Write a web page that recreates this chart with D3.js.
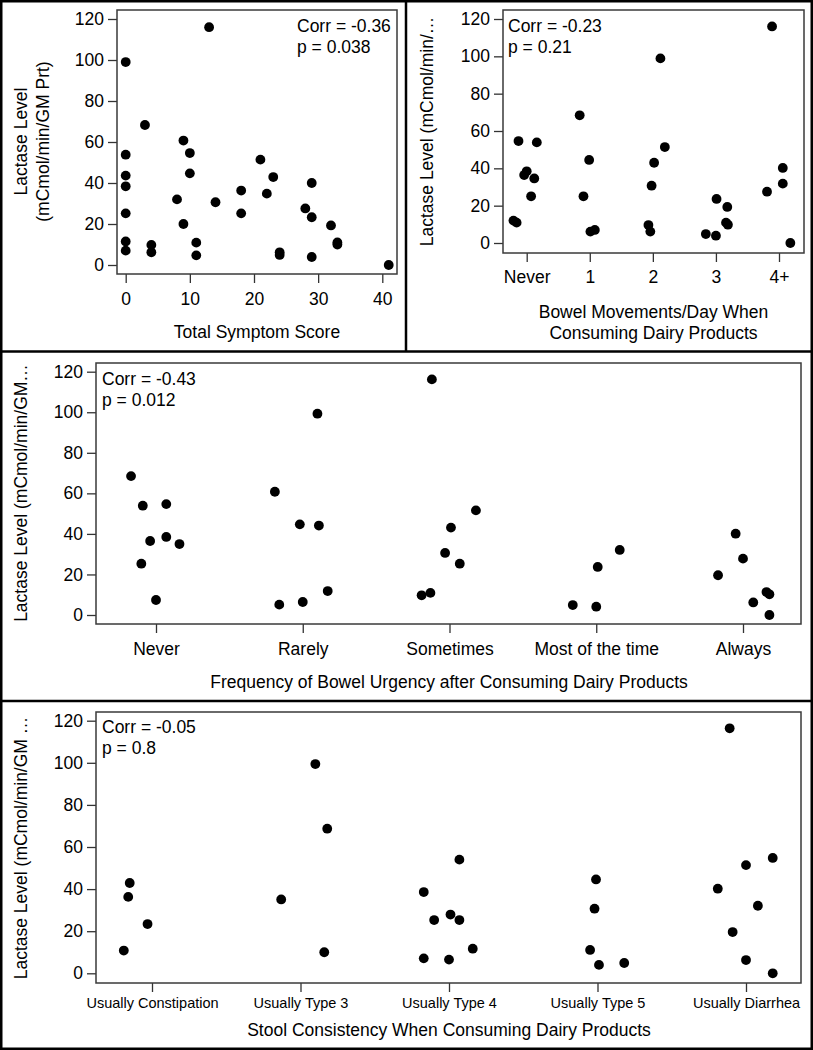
<!DOCTYPE html>
<html><head><meta charset="utf-8">
<script src="https://cdn.jsdelivr.net/npm/d3@7"></script>
<style>
html,body{margin:0;padding:0;background:#fff;}
svg text{font-family:"Liberation Sans",Arial,sans-serif;fill:#000;}
</style></head>
<body><svg id="c" width="813" height="1050"></svg>
<script>
// ---------- DATA ----------
const yTicks = [0, 20, 40, 60, 80, 100, 120];
const scoreTicks = [0, 10, 20, 30, 40];

// Panel 1: Total Symptom Score vs Lactase
const p1Score   = [13, 0, 3, 9, 0, 10, 0, 10, 0, 21, 23, 29, 8, 14, 18, 18, 22, 0, 9, 28, 29, 32, 33, 33, 0, 0, 4, 4, 11, 11, 24, 24, 29, 41];
const p1Lactase = [116, 99, 68.3, 60.7, 53.8, 54.6, 43.6, 44.7, 38.4, 51.4, 42.9, 40, 32, 30.6, 36.3, 25.2, 34.8, 25.2, 20, 27.6, 23.3, 19.3, 11, 10, 11.5, 7, 9.8, 6.2, 10.9, 4.7, 6.2, 4.9, 3.9, 0];

// Panel 2: Bowel movements/day
const bmCategories = ["Never", "1", "2", "3", "4+"];
const p2Cat     = [0, 0, 0, 0, 0, 0, 0, 0, 1, 1, 1, 1, 1, 2, 2, 2, 2, 2, 2, 3, 3, 3, 3, 3, 3, 4, 4, 4, 4, 4];
const p2Jitter  = [-0.13, 0.16, -0.04, 0.0, 0.12, 0.07, -0.21, -0.16, -0.16, -0.01, -0.1, 0.01, 0.08, 0.12, 0.19, 0.02, -0.02, -0.07, -0.04, 0.01, 0.18, 0.16, 0.19, -0.16, 0.0, -0.11, 0.06, 0.06, -0.19, 0.18];
const p2Lactase = [54.6, 53.9, 36.4, 38.4, 34.6, 25, 12, 10.9, 68.4, 44.5, 25, 6.1, 7, 98.9, 51.4, 43, 30.7, 9.6, 6.1, 23.6, 19.3, 10.9, 9.8, 4.8, 3.9, 116, 40.2, 31.8, 27.5, 0];

// Panel 3: Frequency of bowel urgency
const urgencyCategories = ["Never", "Rarely", "Sometimes", "Most of the time", "Always"];
const p3Cat     = [0, 0, 0, 0, 0, 0, 0, 0, 1, 1, 1, 1, 1, 1, 1, 2, 2, 2, 2, 2, 2, 2, 3, 3, 3, 3, 4, 4, 4, 4, 4, 4, 4];
const p3Jitter  = [-0.17, -0.09, 0.07, -0.04, 0.07, 0.16, -0.10, 0.0, -0.19, -0.02, 0.11, 0.10, 0.17, -0.16, 0.0, -0.12, 0.18, 0.01, -0.03, 0.07, -0.19, -0.13, -0.16, 0.0, 0.01, 0.16, -0.17, -0.05, 0.0, 0.07, 0.16, 0.18, 0.18];
const p3Lactase = [68.5, 53.9, 54.7, 36.5, 38.5, 35, 25.3, 7.4, 60.8, 44.7, 44.1, 99.3, 11.8, 5.1, 6.4, 116.2, 51.6, 43.1, 30.6, 25.3, 9.7, 10.9, 4.9, 4.1, 23.7, 32.1, 19.6, 40.1, 27.8, 6.2, 11.3, 10.2, 0];

// Panel 4: Stool consistency
const stoolCategories = ["Usually Constipation", "Usually Type 3", "Usually Type 4", "Usually Type 5", "Usually Diarrhea"];
const p4Cat     = [0, 0, 0, 0, 1, 1, 1, 1, 2, 2, 2, 2, 2, 2, 2, 2, 3, 3, 3, 3, 3, 4, 4, 4, 4, 4, 4, 4, 4];
const p4Jitter  = [-0.15, -0.16, -0.03, -0.19, 0.10, 0.18, -0.13, 0.16, 0.07, -0.17, 0.01, -0.10, 0.07, 0.16, -0.17, 0.0, -0.01, -0.02, -0.05, 0.01, 0.18, -0.11, 0.18, 0.0, -0.19, 0.08, -0.09, 0.0, 0.18];
const p4Lactase = [42.9, 36.3, 23.4, 10.8, 99.4, 68.7, 35.1, 10, 54, 38.6, 27.9, 25.3, 25.3, 11.7, 7.1, 6.5, 44.6, 30.7, 11.1, 4, 4.9, 116.4, 54.8, 51.4, 40.2, 32.1, 19.6, 6.3, 0];

const corrLabels = ["Corr = -0.36", "Corr = -0.23", "Corr = -0.43", "Corr = -0.05"];
const pLabels    = ["p = 0.038", "p = 0.21", "p = 0.012", "p = 0.8"];

// ---------- DRAW ----------
const svg = d3.select("#c");
const FONT = 17.5;
const R = 4.9;

function panel(o) {
  const g = svg.append("g");
  const y = d3.scaleLinear().domain([0, 120]).range([o.y0, o.y120]);
  const x = d3.scaleLinear().domain(o.xDomain).range(o.xRange);

  // y axis
  const ya = g.append("g").attr("transform", `translate(${o.frame[0]},0)`)
    .call(d3.axisLeft(y).tickValues(yTicks).tickSize(9).tickPadding(4));
  ya.select(".domain").remove();
  ya.selectAll("line").attr("stroke", "#333").attr("stroke-width", 1.3);
  ya.selectAll("text").style("font-size", FONT + "px").attr("fill", "#000");

  // x axis
  const xa = g.append("g").attr("transform", `translate(0,${o.frame[3]})`)
    .call(d3.axisBottom(x).tickValues(o.xTicks).tickFormat(o.xFormat).tickSize(9).tickPadding(o.xPad));
  xa.select(".domain").remove();
  xa.selectAll("line").attr("stroke", "#333").attr("stroke-width", 1.3);
  xa.selectAll("text").style("font-size", o.xFont + "px").attr("fill", "#000");

  // frame
  g.append("rect")
    .attr("x", o.frame[0]).attr("y", o.frame[1])
    .attr("width", o.frame[2] - o.frame[0]).attr("height", o.frame[3] - o.frame[1])
    .attr("fill", "none").attr("stroke", "#3a3a3a").attr("stroke-width", 1.5);

  // points
  g.append("g").selectAll("circle").data(o.pts).join("circle")
    .attr("cx", d => x(d[0])).attr("cy", d => y(d[1])).attr("r", R).attr("fill", "#000");

  // annotation
  const ann = g.append("text").attr("x", o.ann[0]).attr("y", o.ann[1]).style("font-size", FONT + "px");
  ann.text(o.corr);
  g.append("text").attr("x", o.ann[0]).attr("y", o.ann[1] + 21).style("font-size", FONT + "px").text(o.p);

  // x title
  o.xTitle.forEach((t, i) => {
    g.append("text").attr("x", o.xTitlePos[0]).attr("y", o.xTitlePos[1] + i * 21)
      .attr("text-anchor", "middle").style("font-size", FONT + "px").text(t);
  });
  // y title
  o.yTitle.forEach((t, i) => {
    g.append("text").attr("transform", `translate(${o.yTitlePos[0] + i * 22},${o.yTitlePos[1]}) rotate(-90)`)
      .attr("text-anchor", "middle").attr("dominant-baseline", "central")
      .style("font-size", FONT + "px").text(t);
  });
}

const idx = [0, 1, 2, 3, 4];

panel({
  frame: [117, 10, 397, 274], y0: 265, y120: 19,
  xDomain: [0, 40], xRange: [125.7, 382.3], xTicks: scoreTicks, xFormat: d => d, xPad: 9.5, xFont: FONT,
  pts: p1Score.map((s, i) => [s, p1Lactase[i]]),
  ann: [297, 32], corr: corrLabels[0], p: pLabels[0],
  xTitle: ["Total Symptom Score"], xTitlePos: [257, 338],
  yTitle: ["Lactase Level", "(mCmol/min/GM Prt)"], yTitlePos: [21, 141.5]
});

panel({
  frame: [503, 10, 804, 253], y0: 243, y120: 19,
  xDomain: [0, 4], xRange: [526.7, 779], xTicks: idx, xFormat: i => bmCategories[i], xPad: 8.5, xFont: FONT,
  pts: p2Cat.map((c, i) => [c + p2Jitter[i], p2Lactase[i]]),
  ann: [508, 32], corr: corrLabels[1], p: pLabels[1],
  xTitle: ["Bowel Movements/Day When", "Consuming Dairy Products"], xTitlePos: [653.5, 318],
  yTitle: ["Lactase Level (mCmol/min/\u2026"], yTitlePos: [427, 131.5]
});

panel({
  frame: [96, 363, 801, 624], y0: 615, y120: 371.7,
  xDomain: [0, 4], xRange: [156, 743], xTicks: idx, xFormat: i => urgencyCategories[i], xPad: 9.5, xFont: FONT,
  pts: p3Cat.map((c, i) => [c + p3Jitter[i], p3Lactase[i]]),
  ann: [102, 385], corr: corrLabels[2], p: pLabels[2],
  xTitle: ["Frequency of Bowel Urgency after Consuming Dairy Products"], xTitlePos: [449, 688],
  yTitle: ["Lactase Level (mCmol/min/GM\u2026"], yTitlePos: [21, 493]
});

panel({
  frame: [96, 712, 801, 983], y0: 973.3, y120: 720.7,
  xDomain: [0, 4], xRange: [152, 746], xTicks: idx, xFormat: i => stoolCategories[i], xPad: 5.7, xFont: 14.5,
  pts: p4Cat.map((c, i) => [c + p4Jitter[i], p4Lactase[i]]),
  ann: [102, 733], corr: corrLabels[3], p: pLabels[3],
  xTitle: ["Stool Consistency When Consuming Dairy Products"], xTitlePos: [449, 1035.5],
  yTitle: ["Lactase Level (mCmol/min/GM \u2026"], yTitlePos: [21, 848]
});

// figure borders
const border = svg.append("g").attr("fill", "none").attr("stroke", "#000");
border.append("rect").attr("x", 1.25).attr("y", 1.25).attr("width", 810.5).attr("height", 1047.5).attr("stroke-width", 2.5);
border.append("line").attr("x1", 0).attr("x2", 813).attr("y1", 351.5).attr("y2", 351.5).attr("stroke-width", 2.5);
border.append("line").attr("x1", 0).attr("x2", 813).attr("y1", 701).attr("y2", 701).attr("stroke-width", 2.5);
border.append("line").attr("x1", 406).attr("x2", 406).attr("y1", 0).attr("y2", 351.5).attr("stroke-width", 2.5);
</script></body></html>
